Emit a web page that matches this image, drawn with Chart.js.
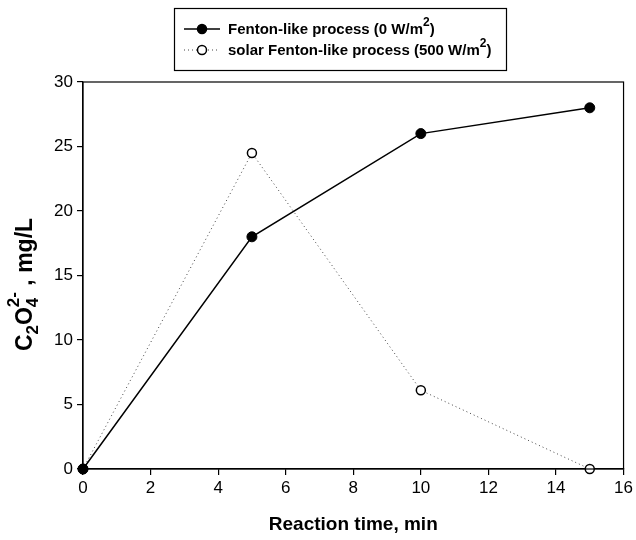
<!DOCTYPE html>
<html>
<head>
<meta charset="utf-8">
<script src="https://cdn.jsdelivr.net/npm/chart.js@4.4.0/dist/chart.umd.min.js"></script>
<style>
  body { margin: 0; background: #fff; }
</style>
</head>
<body>
<canvas id="chart" width="636" height="540"></canvas>
<script>
// data
const timeMin = [0, 5, 10, 15];
const fentonValues = [0, 18, 26, 28];
const solarValues = [0, 24.5, 6.1, 0];
const xTicks = [0, 2, 4, 6, 8, 10, 12, 14, 16];
const yTicks = [0, 5, 10, 15, 20, 25, 30];

const FONT = '"Liberation Sans", Arial, sans-serif';

function toPoints(xs, ys) {
    return xs.map((x, i) => ({ x: x, y: ys[i] }));
}

// draws text pieces; each piece = [text, shift, noAdvance]
function drawPieces(ctx, x, y, pieces, size, ratio) {
    let cx = x;
    pieces.forEach(p => {
        const small = p[1] !== '';
        const fs = small ? Math.round(size * ratio) : size;
        ctx.font = 'bold ' + fs + 'px ' + FONT;
        let dy = 0;
        if (p[1] === 'sub') dy = size * 0.3;
        if (p[1] === 'sup') dy = -size * 0.5;
        ctx.fillText(p[0], cx, y + dy);
        if (!p[2]) cx += ctx.measureText(p[0]).width;
    });
    return cx;
}

function measurePieces(ctx, pieces, size, ratio) {
    let w = 0;
    pieces.forEach(p => {
        const fs = p[1] !== '' ? Math.round(size * ratio) : size;
        ctx.font = 'bold ' + fs + 'px ' + FONT;
        if (!p[2]) w += ctx.measureText(p[0]).width;
    });
    return w;
}

const extras = {
    id: 'extras',
    afterDraw(chart) {
        const ctx = chart.ctx;
        const a = chart.chartArea;
        ctx.save();
        // frame round the plot
        ctx.strokeStyle = '#000';
        ctx.lineWidth = 1.2;
        ctx.strokeRect(a.left, a.top, a.right - a.left, a.bottom - a.top);

        // y axis title with sub/superscripts
        ctx.fillStyle = '#000';
        ctx.textBaseline = 'middle';
        ctx.textAlign = 'left';
        const yPieces = [['C', ''], ['2', 'sub'], ['O', ''], ['4', 'sub', true], ['2-', 'sup'], [' , mg/L', '']];
        const ySize = 23;
        const w = measurePieces(ctx, yPieces, ySize, 0.72);
        ctx.translate(26, (a.top + a.bottom) / 2 + 9);
        ctx.rotate(-Math.PI / 2);
        drawPieces(ctx, -w / 2, 0, yPieces, ySize, 0.72);
        ctx.setTransform(1, 0, 0, 1, 0, 0);

        // legend box
        ctx.lineWidth = 1.2;
        ctx.strokeRect(174.5, 8.5, 332, 62);
        const rows = [
            { y: 29, dash: [], fill: '#000', pieces: [['Fenton-like process (0 W/m', ''], ['2', 'sup'], [')', '']] },
            { y: 50, dash: [1, 3], fill: '#fff', pieces: [['solar Fenton-like process (500 W/m', ''], ['2', 'sup'], [')', '']] }
        ];
        rows.forEach(r => {
            ctx.beginPath();
            ctx.setLineDash(r.dash);
            ctx.lineWidth = r.dash.length ? 1 : 1.5;
            ctx.strokeStyle = r.dash.length ? '#444' : '#000';
            ctx.moveTo(184, r.y);
            ctx.lineTo(220, r.y);
            ctx.stroke();
            ctx.setLineDash([]);
            ctx.beginPath();
            ctx.arc(202, r.y, 4.5, 0, Math.PI * 2);
            ctx.fillStyle = r.fill;
            ctx.fill();
            ctx.strokeStyle = '#000';
            ctx.lineWidth = 1.5;
            ctx.stroke();
            ctx.fillStyle = '#000';
            drawPieces(ctx, 228, r.y + 1, r.pieces, 15, 0.8);
        });
        ctx.restore();
    }
};

new Chart(document.getElementById('chart'), {
    type: 'line',
    data: {
        datasets: [{
            label: 'Fenton-like process (0 W/m2)',
            data: toPoints(timeMin, fentonValues),
            borderColor: '#000',
            borderWidth: 1.5,
            pointRadius: 5,
            pointBackgroundColor: '#000',
            pointBorderColor: '#000',
            pointBorderWidth: 1,
            clip: false
        }, {
            label: 'solar Fenton-like process (500 W/m2)',
            data: toPoints(timeMin, solarValues),
            borderColor: '#444',
            borderWidth: 1,
            borderDash: [1, 3],
            pointRadius: 4.5,
            pointBackgroundColor: '#fff',
            pointBorderColor: '#000',
            pointBorderWidth: 1.5,
            clip: false
        }]
    },
    options: {
        responsive: false,
        animation: false,
        layout: { padding: { top: 82, right: 12, left: 0, bottom: 0 } },
        plugins: {
            legend: { display: false },
            tooltip: { enabled: false }
        },
        scales: {
            x: {
                type: 'linear',
                min: 0,
                max: 16,
                afterBuildTicks: s => { s.ticks = xTicks.map(v => ({ value: v })); },
                afterFit: s => { s.height = 71; },
                grid: { drawOnChartArea: false, tickLength: 6, color: '#000', lineWidth: 1.2 },
                border: { color: '#000', width: 1.2 },
                ticks: { color: '#000', font: { family: FONT, size: 17 }, padding: 3, maxRotation: 0 },
                title: {
                    display: true,
                    text: 'Reaction time, min',
                    color: '#000',
                    font: { family: FONT, size: 19, weight: 'bold' },
                    padding: { top: 3 }
                }
            },
            y: {
                min: 0,
                max: 30,
                afterBuildTicks: s => { s.ticks = yTicks.map(v => ({ value: v })); },
                afterFit: s => { s.width = 83; },
                grid: { drawOnChartArea: false, tickLength: 6, color: '#000', lineWidth: 1.2 },
                border: { color: '#000', width: 1.2 },
                ticks: { color: '#000', font: { family: FONT, size: 17 }, padding: 4 }
            }
        }
    },
    plugins: [extras]
});
</script>
</body>
</html>
